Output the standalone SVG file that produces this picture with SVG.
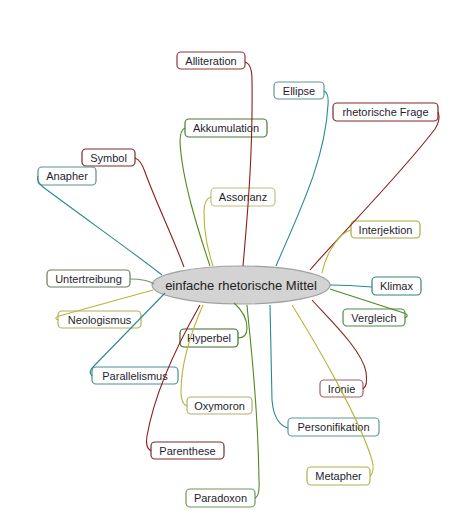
<svg xmlns="http://www.w3.org/2000/svg" width="449" height="512" viewBox="0 0 449 512">
<style>
.n rect{fill:#fff;stroke-width:1.2}
.n text{font-family:"Liberation Sans",Arial,sans-serif;font-size:11px;fill:#1e1e2e;text-anchor:middle}
.c path{fill:none;stroke-width:1.1}
.r{stroke:#8b1f1f}
.t{stroke:#2a8a8a}
.g{stroke:#4f8a1f}
.y{stroke:#b8b43a}
.gr{stroke:#7a9070}
</style>
<rect width="449" height="512" fill="#fff"/>
<g id="nodes">
<g id="center"><ellipse cx="241" cy="285" rx="89" ry="19" fill="#d3d3d3" stroke="#a0a0a0" stroke-width="1.2"/><text x="241" y="290" style="font-family:'Liberation Sans',Arial,sans-serif;font-size:13px;fill:#222" text-anchor="middle">einfache rhetorische Mittel</text></g>
<g id="alliteration" class="n"><rect x="177" y="52" width="68" height="17" rx="4" stroke="#8b3a3a"/><text x="211" y="65">Alliteration</text></g>
<g id="ellipse" class="n"><rect x="274" y="82" width="50" height="17" rx="4" stroke="#5f9898"/><text x="299" y="95">Ellipse</text></g>
<g id="frage" class="n"><rect x="333" y="103" width="105" height="18" rx="4" stroke="#7a2a2a"/><text x="385.5" y="116">rhetorische Frage</text></g>
<g id="akkumulation" class="n"><rect x="185" y="119" width="82" height="18" rx="4" stroke="#4a7a3a"/><text x="226" y="132">Akkumulation</text></g>
<g id="symbol" class="n"><rect x="82" y="149" width="53" height="17" rx="4" stroke="#7a2a2a"/><text x="108.5" y="162">Symbol</text></g>
<g id="anapher" class="n"><rect x="38" y="167" width="58" height="18" rx="4" stroke="#5a9090"/><text x="67" y="180">Anapher</text></g>
<g id="assonanz" class="n"><rect x="211" y="188" width="64" height="18" rx="4" stroke="#c0c080"/><text x="243" y="201">Assonanz</text></g>
<g id="interjektion" class="n"><rect x="351" y="221" width="69" height="17" rx="4" stroke="#a8a840"/><text x="385.5" y="234">Interjektion</text></g>
<g id="untertreibung" class="n"><rect x="47" y="270" width="83" height="17" rx="4" stroke="#6a7a60"/><text x="88.5" y="283">Untertreibung</text></g>
<g id="klimax" class="n"><rect x="372" y="277" width="49" height="18" rx="4" stroke="#3a8080"/><text x="396.5" y="290">Klimax</text></g>
<g id="neologismus" class="n"><rect x="58" y="311" width="83" height="17" rx="4" stroke="#b0b060"/><text x="99.5" y="324">Neologismus</text></g>
<g id="vergleich" class="n"><rect x="343" y="309" width="62" height="17" rx="4" stroke="#4a8a4a"/><text x="374" y="322">Vergleich</text></g>
<g id="hyperbel" class="n"><rect x="180" y="329" width="58" height="18" rx="4" stroke="#3a6a2a"/><text x="209" y="342">Hyperbel</text></g>
<g id="parallelismus" class="n"><rect x="92" y="367" width="86" height="17" rx="4" stroke="#4a9090"/><text x="135" y="380">Parallelismus</text></g>
<g id="ironie" class="n"><rect x="320" y="380" width="43" height="17" rx="4" stroke="#a06060"/><text x="341.5" y="393">Ironie</text></g>
<g id="oxymoron" class="n"><rect x="187" y="397" width="65" height="17" rx="4" stroke="#b0b070"/><text x="219.5" y="410">Oxymoron</text></g>
<g id="personifikation" class="n"><rect x="288" y="418" width="91" height="18" rx="4" stroke="#5a9a9a"/><text x="333.5" y="431">Personifikation</text></g>
<g id="parenthese" class="n"><rect x="151" y="442" width="73" height="17" rx="4" stroke="#7a2a2a"/><text x="187.5" y="455">Parenthese</text></g>
<g id="metapher" class="n"><rect x="307" y="467" width="63" height="18" rx="4" stroke="#b0b050"/><text x="338.5" y="480">Metapher</text></g>
<g id="paradoxon" class="n"><rect x="186" y="489" width="69" height="18" rx="4" stroke="#6a9a5a"/><text x="220.5" y="502">Paradoxon</text></g>
</g>
<g id="connectors" class="c">
<path class="r" d="M245,62 Q252,64 252,80 C253,150 248,210 243,266"/>
<path class="t" d="M324,91 Q329,93 328,105 C325,160 300,210 276,266"/>
<path class="r" d="M438,112 Q441,119 435,129 C400,175 340,235 310,270"/>
<path class="g" d="M185,128 Q180,130 180,142 C182,180 198,230 210,266"/>
<path class="y" d="M211,197 Q204,199 204,212 C204,235 208,250 213,266"/>
<path class="r" d="M135,158 Q141,160 145,172 C155,200 172,235 184,267"/>
<path class="t" d="M38,176 Q36,181 43,187 C90,222 130,250 162,275"/>
<path class="y" d="M351,230 Q343,232 335,243 C328,253 324,262 322,273"/>
<path class="gr" d="M130,279 C140,279 148,280 154,284"/>
<path class="y" d="M58,320 Q53,318 59,316 L153,290"/>
<path class="t" d="M330,285 C345,285 360,286 372,287"/>
<path class="g" d="M405,318 Q410,315 404,313 L330,289"/>
<path class="g" d="M238,338 Q247,338 247,328 C247,318 242,310 234,303"/>
<path class="y" d="M187,406 Q181,404 181,392 C181,360 192,330 203,305"/>
<path class="t" d="M92,376 Q88,372 93,367 L165,293"/>
<path class="r" d="M151,451 Q145,448 147,436 C155,390 180,340 200,305"/>
<path class="g" d="M255,498 Q260,496 259,480 C258,400 250,340 247,305"/>
<path class="r" d="M363,389 Q368,386 366,372 C362,350 330,320 312,300"/>
<path class="t" d="M288,428 Q274,424 272,400 L270,305"/>
<path class="y" d="M370,476 Q375,472 372,460 C360,420 320,350 292,305"/>
</g>
</svg>
